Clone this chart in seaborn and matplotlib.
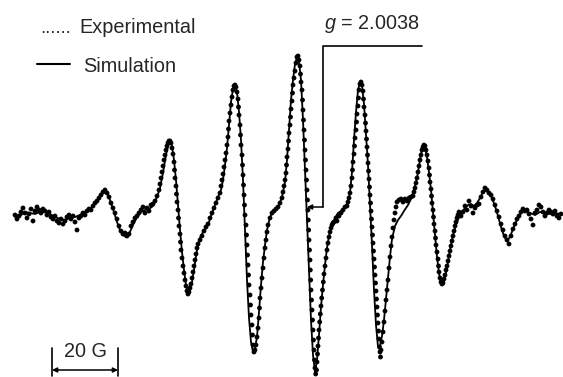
import numpy as np
import pandas as pd
import matplotlib
matplotlib.use("Agg")
import matplotlib.pyplot as plt
import seaborn as sns

# ---- data (field in arbitrary units, 66 units = 20 G; signal read as screen height, baseline 213) ----
BASELINE = 213
sim_pts = [
    (15, 217), (20, 216), (25, 212), (30, 213), (35, 214), (40, 212), (45, 212), (50, 214), (55, 217),
    (60, 219), (65, 220), (70, 218), (75, 217), (80, 215), (85, 212), (90, 209), (95, 204), (100, 197),
    (105, 189), (108, 194), (111, 203), (114, 212), (117, 222), (120, 230), (123, 235), (126, 237),
    (129, 234), (133, 225), (137, 217), (141, 212), (145, 210), (149, 209), (153, 206), (157, 197),
    (160, 188), (163, 173), (166, 155), (168, 146), (170, 141), (172, 146), (174, 160), (176, 180),
    (178, 205), (180, 230), (182, 252), (184, 270), (186, 285), (188, 293), (190, 290), (192, 282),
    (194, 270), (196, 256), (198, 245), (200, 238), (203, 232), (206, 228), (209, 222), (212, 213),
    (215, 205), (218, 197), (221, 190), (223, 180), (225, 165), (227, 148), (229, 125), (231, 102),
    (233, 89), (235, 85), (237, 92), (239, 112), (241, 140), (243, 180), (245, 230), (247, 280),
    (249, 318), (251, 342), (253, 352), (255, 348), (257, 337), (259, 312), (261, 285), (263, 262),
    (265, 245), (267, 230), (270, 217), (273, 212), (276, 210), (279, 205), (282, 197), (285, 182),
    (287, 160), (289, 130), (291, 100), (293, 80), (295, 64), (297, 57), (299, 62), (301, 80),
    (303, 120), (305, 170), (307, 220), (309, 272), (311, 320), (313, 355), (315, 372), (317, 360),
    (319, 335), (321, 307), (323, 285), (325, 265), (327, 248), (329, 236), (332, 226), (335, 218),
    (338, 213), (341, 211), (344, 208), (347, 204), (350, 193), (352, 172), (354, 140), (356, 112),
    (358, 90), (360, 82), (362, 86), (364, 104), (366, 135), (368, 165), (370, 205), (372, 245),
    (374, 290), (376, 325), (378, 347), (380, 346), (382, 336), (384, 320), (386, 299), (388, 279),
    (390, 257), (392, 239), (395, 226), (398, 220), (401, 216), (404, 211), (408, 205), (411, 199),
    (414, 190), (417, 178), (419, 166), (421, 154), (423, 146), (425, 147), (427, 157), (429, 172),
    (431, 190), (433, 212), (435, 235), (437, 257), (439, 273), (441, 283), (443, 284), (445, 277),
    (447, 268), (449, 256), (451, 245), (453, 235), (456, 225), (459, 217), (462, 212), (465, 208),
    (468, 205), (471, 204), (474, 206), (477, 203), (480, 198), (483, 192), (486, 190), (489, 193),
    (492, 198), (495, 206), (498, 216), (501, 227), (504, 236), (507, 241), (510, 237), (513, 229),
    (516, 222), (519, 216), (522, 212), (526, 211), (530, 213), (535, 215), (540, 212), (545, 213),
    (550, 214), (555, 213), (560, 214),
]
exp_pts = [
    (15, 215), (17, 219), (19, 216), (21, 212), (23, 208), (25, 213), (27, 218), (29, 214), (31, 209),
    (33, 221), (35, 211), (37, 207), (39, 210), (41, 213), (43, 209), (45, 211), (47, 215), (49, 212),
    (51, 217), (53, 219), (55, 216), (57, 221), (59, 223), (61, 219), (63, 224), (65, 221), (67, 217),
    (69, 215), (71, 219), (73, 216), (75, 222), (77, 230), (79, 218), (81, 216), (83, 213), (85, 215),
    (87, 211), (89, 209), (91, 210), (93, 206), (95, 203), (97, 201), (99, 198), (101, 195), (103, 192),
    (105, 190), (107, 193), (109, 197), (111, 203), (113, 208), (115, 213), (117, 219), (119, 226),
    (121, 231), (123, 234), (125, 233), (127, 236), (129, 234), (131, 226), (133, 222), (135, 218),
    (137, 216), (139, 213), (141, 210), (143, 207), (145, 213), (147, 208), (149, 211), (151, 205),
    (153, 204), (155, 201), (157, 196), (159, 190), (160, 184), (161, 178), (162, 172), (163, 166),
    (164, 160), (165, 155), (166, 150), (167, 146), (168, 143), (169, 141), (170, 141), (171, 143),
    (172, 148), (173, 154), (174, 162), (174.5, 170), (175, 178), (176, 186), (176.5, 194), (177, 202),
    (178, 210), (178.5, 218), (179, 226), (180, 234), (180.5, 242), (181, 250), (182, 258), (183, 266),
    (184, 273), (185, 280), (186, 286), (187, 291), (188, 294), (189, 292), (190, 288), (191, 284),
    (192, 278), (193, 272), (194, 266), (195, 260), (196, 254), (197, 248), (198, 244), (200, 240),
    (202, 236), (204, 231), (206, 227), (208, 224), (210, 218), (212, 213), (214, 208), (216, 203),
    (218, 198), (220, 193), (221, 186), (222, 180), (223, 174), (224, 167), (225, 160), (226, 153),
    (227, 145), (228, 137), (228.5, 129), (229, 121), (230, 113), (231, 105), (232, 97), (233, 90),
    (234, 86), (235, 85), (236, 87), (237, 92), (238, 99), (238.5, 107), (239, 115), (240, 125),
    (240.5, 135), (241, 145), (242, 155), (242.5, 165), (243, 175), (243.5, 185), (244, 195),
    (244.5, 205), (245, 215), (246, 225), (246.5, 235), (247, 245), (247.5, 255), (248, 265),
    (248.5, 275), (249, 285), (250, 295), (250.5, 305), (251, 315), (252, 325), (252.5, 335),
    (253, 345), (254, 352), (255, 350), (256, 345), (257, 337), (258, 328), (259, 318), (259.5, 308),
    (260, 298), (261, 288), (262, 278), (263, 268), (264, 258), (265, 248), (266, 240), (267, 232),
    (268, 225), (270, 218), (272, 213), (274, 211), (276, 209), (278, 207), (280, 203), (282, 198),
    (283, 192), (284, 186), (285, 180), (286, 173), (286.5, 165), (287, 157), (288, 149), (288.5, 141),
    (289, 133), (290, 125), (290.5, 117), (291, 109), (292, 101), (292.5, 93), (293, 85), (294, 78),
    (295, 71), (296, 63), (297, 57), (298, 56), (299, 60), (300, 66), (300.5, 74), (301, 82), (302, 90),
    (302.5, 100), (303, 110), (303.5, 120), (304, 130), (304.5, 140), (305, 150), (305.5, 160),
    (306, 170), (306.5, 180), (307, 190), (307.5, 200), (308, 210), (308.3, 220), (308.7, 230),
    (309, 240), (309.5, 250), (310, 260), (310.3, 270), (310.7, 280), (311, 290), (311.5, 300),
    (312, 310), (312.5, 320), (313, 330), (313.5, 340), (314, 350), (314.5, 360), (315, 368),
    (315.7, 374), (316.5, 370), (317, 362), (317.5, 354), (318, 346), (318.5, 338), (319, 330),
    (319.7, 322), (320.3, 314), (321, 306), (321.7, 298), (322.5, 290), (323.3, 282), (324, 274),
    (325, 266), (326, 258), (327, 250), (328, 243), (329, 237), (330, 232), (331, 228), (332, 225),
    (333, 223), (334, 222), (336, 218), (337, 221), (339, 216), (341, 213), (343, 210), (345, 207),
    (347, 206), (348, 202), (349, 198), (350, 193), (351, 186), (352, 178), (352.5, 170), (353, 162),
    (354, 154), (354.5, 146), (355, 138), (356, 130), (356.5, 122), (357, 114), (358, 106), (358.5, 98),
    (359, 90), (360, 84), (361, 82), (362, 85), (363, 91), (363.5, 99), (364, 107), (365, 115),
    (365.5, 123), (366, 131), (366.5, 139), (367, 147), (367.5, 155), (368, 163), (368.5, 171),
    (369, 179), (369.5, 187), (370, 195), (370.5, 203), (371, 211), (371.5, 219), (372, 227),
    (372.5, 235), (373, 243), (373.5, 251), (374, 259), (374.5, 267), (375, 275), (375.5, 283),
    (376, 291), (376.5, 299), (377, 307), (377.5, 315), (378, 323), (378.5, 331), (379, 339),
    (379.5, 347), (380, 352), (380.5, 357), (381, 350), (382, 342), (383, 332), (384, 322), (385, 311),
    (386, 300), (387, 290), (388, 280), (389, 268), (390, 257), (391, 246), (392, 237), (393, 228),
    (394, 220), (395, 213), (396, 207), (397, 202), (399, 200), (401, 199),
    (403, 202), (405, 199), (407, 201), (409, 198), (411, 197), (413, 196), (414, 192), (415, 188),
    (416, 183), (417, 178), (418, 172), (419, 166), (420, 160), (421, 155), (422, 150), (423, 147),
    (424, 145), (425, 146), (426, 150), (427, 155), (428, 161), (429, 168), (429.5, 175), (430, 182),
    (431, 189), (431.5, 196), (432, 203), (433, 210), (433.5, 217), (434, 224), (435, 231),
    (435.5, 238), (436, 245), (437, 252), (438, 259), (438.5, 266), (439, 272), (440, 278), (441, 282),
    (442, 284), (443, 283), (444, 279), (445, 275), (446, 270), (447, 266), (448, 261), (449, 256),
    (450, 251), (451, 246), (452, 241), (453, 236), (454, 231), (455, 226), (456, 222), (457, 218),
    (458, 215), (459, 212), (461, 216), (463, 212), (465, 206), (467, 210), (469, 201), (471, 206),
    (473, 213), (475, 208), (477, 205), (479, 204), (481, 197), (483, 192), (485, 188), (487, 190),
    (489, 193), (491, 195), (493, 199), (495, 205), (497, 211), (499, 217), (501, 224), (503, 230),
    (505, 236), (507, 240), (509, 244), (511, 236), (513, 229), (515, 224), (517, 219), (519, 216),
    (521, 212), (523, 209), (525, 211), (527, 210), (529, 214), (531, 219), (533, 225), (535, 213),
    (537, 210), (539, 205), (541, 207), (543, 212), (545, 216), (547, 213), (549, 210), (551, 212),
    (553, 214), (555, 211), (557, 216), (559, 218), (561, 214),
]
g_label = "2.0038"
g_field = 307          # field position marked by g
scale_label = "20 G"
scale_len = 66         # 20 G in field units

sim_df = pd.DataFrame(sim_pts, columns=["field", "y"])
sim_df["signal"] = BASELINE - sim_df["y"]
exp_df = pd.DataFrame(exp_pts, columns=["field", "y"])
exp_df["signal"] = BASELINE - exp_df["y"]

# ---- figure ----
sns.set_style("white")
plt.rcParams["font.family"] = ["Liberation Sans", "DejaVu Sans"]
plt.rcParams["mathtext.fontset"] = "custom"
plt.rcParams["mathtext.it"] = "Liberation Sans:italic"
plt.rcParams["mathtext.rm"] = "Liberation Sans"

fig = plt.figure(figsize=(5.63, 3.77), dpi=100)
ax = fig.add_axes([0, 0, 1, 1])
ax.set_xlim(0, 563)
ax.set_ylim(BASELINE - 377, BASELINE)

sns.lineplot(data=sim_df, x="field", y="signal", sort=False, estimator=None,
             color="black", linewidth=1.3, ax=ax)
sns.scatterplot(data=exp_df, x="field", y="signal", color="black", s=12,
                edgecolor="none", ax=ax, zorder=3)
ax.set_axis_off()

fs = 14.3
# legend
ax.text(40, BASELINE - 33, "......", fontsize=fs - 1, va="baseline", ha="left")
ax.text(79, BASELINE - 33, "Experimental", fontsize=fs, va="baseline", ha="left")
ax.plot([37, 70], [BASELINE - 64, BASELINE - 64], color="black", lw=1.5)
ax.text(83, BASELINE - 72, "Simulation", fontsize=fs, va="baseline", ha="left")

# g marker
ax.text(372, BASELINE - 29, r"$g$ = " + g_label, fontsize=fs, va="baseline", ha="center")
gx = g_field + 16
ax.plot([422, gx, gx], [BASELINE - 46, BASELINE - 46, BASELINE - 207], color="black", lw=1.2)
ax.annotate("", xy=(g_field, BASELINE - 207), xytext=(gx, BASELINE - 207),
            arrowprops=dict(arrowstyle="-|>", color="black", lw=1.1,
                            mutation_scale=7, shrinkA=0, shrinkB=0))

# 20 G scale bar
x0 = 52
ax.plot([x0, x0], [BASELINE - 348, BASELINE - 376], color="black", lw=1.2)
ax.plot([x0 + scale_len, x0 + scale_len], [BASELINE - 348, BASELINE - 376], color="black", lw=1.2)
ax.annotate("", xy=(x0, BASELINE - 370), xytext=(x0 + scale_len, BASELINE - 370),
            arrowprops=dict(arrowstyle="<|-|>", color="black", lw=1.1,
                            mutation_scale=7, shrinkA=0, shrinkB=0))
ax.text(x0 + scale_len / 2, BASELINE - 357, scale_label, fontsize=fs, va="baseline", ha="center")

fig.savefig("out.png", dpi=100)
